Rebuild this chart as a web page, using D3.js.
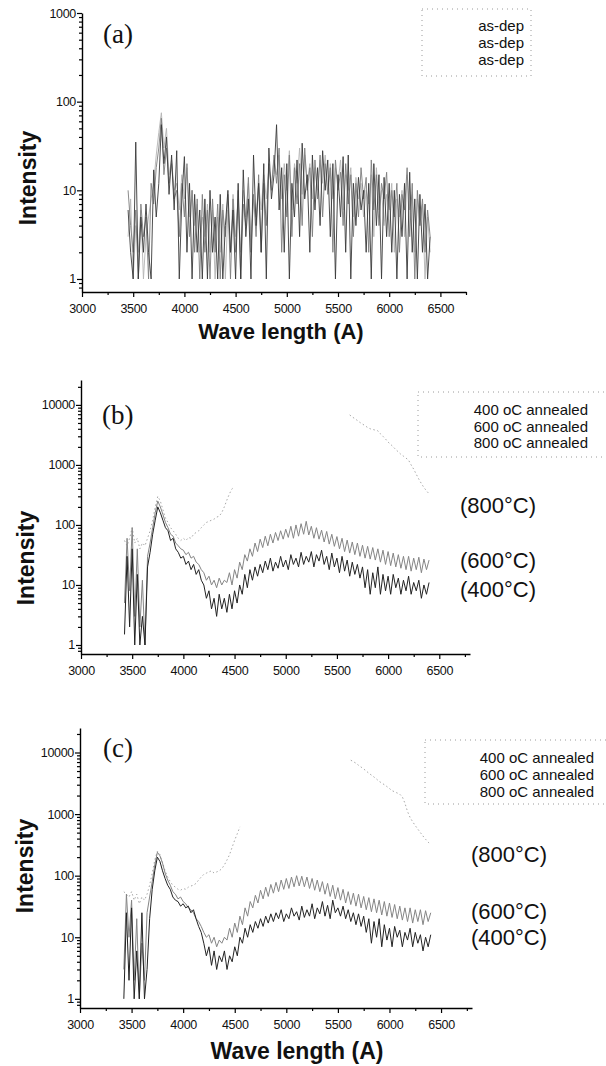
<!DOCTYPE html>
<html><head><meta charset="utf-8">
<script src="https://cdn.jsdelivr.net/npm/d3@7"></script>
<style>body{margin:0;background:#fff} svg{display:block}</style>
</head><body>
<svg id="chart" width="606" height="1066"></svg>
<script>
// ---------------- DATA ----------------
const wavelengths = [
3425,3450,3475,3500,3525,3550,3575,3600,3625,3650,
3675,3700,3725,3750,3775,3800,3825,3850,3875,3900,
3925,3950,3975,4000,4025,4050,4075,4100,4125,4150,
4175,4200,4225,4250,4275,4300,4325,4350,4375,4400,
4425,4450,4475,4500,4525,4550,4575,4600,4625,4650,
4675,4700,4725,4750,4775,4800,4825,4850,4875,4900,
4925,4950,4975,5000,5025,5050,5075,5100,5125,5150,
5175,5200,5225,5250,5275,5300,5325,5350,5375,5400,
5425,5450,5475,5500,5525,5550,5575,5600,5625,5650,
5675,5700,5725,5750,5775,5800,5825,5850,5875,5900,
5925,5950,5975,6000,6025,6050,6075,6100,6125,6150,
6175,6200,6225,6250,6275,6300,6325,6350,6375,6400];

const xTickValues = [3000,3500,4000,4500,5000,5500,6000,6500];
const yTicksA = [1,10,100,1000];
const yTicksBC = [1,10,100,1000,10000];
const panelLabels = ["(a)","(b)","(c)"];
const legendA = ["as-dep","as-dep","as-dep"];
const legendBC = ["400 oC annealed","600 oC annealed","800 oC annealed"];
const tempLabels = ["(800\u00B0C)","(600\u00B0C)","(400\u00B0C)"];
const yTitle = "Intensity";
const xTitle = "Wave length (A)";

// panel (a): as-deposited (three scans)
const asDep1 = [
null,6,2,1,35,1,5,2,7,2,
1,17,5,12,55,20,40,9,25,6,
28,1,8,24,2,12,1,9,2,6,
1,8,1,10,2,5,1,9,1,4,
10,2,6,1,12,1,17,3,8,1,
25,4,12,2,20,1,30,8,15,55,
6,18,2,20,1,12,5,22,3,34,
8,15,2,25,6,18,4,28,10,22,
3,20,1,15,5,24,2,25,1,12,
4,14,6,10,2,12,1,20,4,15,
1,14,3,12,2,10,1,9,3,12,
1,16,2,8,1,9,2,7,1,3];
const asDep2 = [
null,10,4,2,6,1,7,3,5,1,
12,7,18,30,65,15,30,12,20,8,
10,3,12,5,20,3,10,2,8,1,
9,2,6,1,8,2,7,1,6,3,
9,1,8,2,10,1,7,4,14,2,
9,3,15,2,12,4,20,10,25,12,
30,2,15,5,25,3,18,7,20,4,
30,10,18,3,22,8,25,5,20,9,
18,2,22,10,16,4,20,7,15,3,
12,5,18,8,14,2,22,6,15,4,
12,8,16,3,10,5,12,2,9,6,
18,3,12,1,10,4,8,2,6,3];
const asDep3 = [
null,3,8,1,4,2,6,1,3,5,
8,12,25,45,75,30,50,15,22,10,
12,6,15,8,18,5,10,4,7,2,
5,3,7,2,6,1,5,2,7,1,
6,2,9,3,8,2,10,5,12,3,
8,5,12,6,15,8,18,12,22,15,
25,8,20,10,28,6,20,12,30,9,
25,12,20,8,18,10,22,12,25,10,
20,8,18,12,22,6,15,10,18,5,
14,8,12,5,10,7,15,3,18,6,
10,4,9,6,12,2,8,5,10,3,
15,6,9,2,8,4,7,1,5,2];

// panel (b)
const b400 = [
1.5,30,2,40,1,15,1,3,1,20,
35,70,120,200,160,120,90,80,55,60,
40,35,28,30,22,25,18,22,15,18,
12,10,6,8,4,6,3,7,4,6,
3.5,7,4,8,5,10,7,15,9,18,
12,20,14,22,16,25,18,28,17,24,
19,30,20,26,18,32,22,28,20,35,
22,30,24,36,20,32,25,38,22,30,
18,34,20,28,16,30,17,26,14,24,
15,22,13,20,9,18,7,16,9,20,
7,15,8,14,7,15,9,13,7,12,
8,14,7,11,8,12,6,10,7,11];
const b600 = [
5,60,8,90,3,40,2,12,1,30,
50,90,160,250,200,150,110,90,70,65,
50,45,40,38,32,35,28,30,24,22,
18,16,12,14,10,12,9,13,10,12,
11,16,10,18,13,24,18,32,25,40,
30,50,36,58,42,65,45,70,50,75,
55,80,58,85,62,95,60,100,65,105,
70,115,68,95,60,90,58,82,52,78,
48,70,44,64,40,60,36,56,34,52,
32,50,30,46,28,44,27,42,26,40,
24,38,22,36,21,34,20,32,19,30,
18,30,17,28,18,29,16,27,18,26];
const b800 = [
55,45,60,90,50,60,40,50,45,60,
80,120,200,300,250,180,130,110,90,80,
70,60,55,60,55,62,60,70,75,80,
90,100,110,115,120,125,135,140,160,200,
260,330,400,430,null,null,null,null,null,null,
null,null,null,null,null,null,null,null,null,null,
null,null,null,null,null,null,null,null,null,null,
null,null,null,null,null,null,null,null,null,null,
null,null,null,null,null,null,null,null,6800,6300,
5900,5500,5100,4800,4500,4200,4000,3900,3800,3700,
3300,3000,2700,2400,2200,2000,1800,1650,1500,1400,
1300,1200,1000,850,700,580,490,420,370,330];

// panel (c)
const c400 = [
1,25,2,30,1,6,1,25,1,3,
20,60,120,200,170,120,90,70,60,45,
40,38,32,35,30,32,25,28,20,15,
12,8,5,7,3.5,6,3,5,4,6,
3,5,4,7,5,10,8,14,10,16,
12,18,14,20,15,22,17,24,18,25,
20,28,18,24,20,30,22,26,19,32,
21,28,22,35,20,30,24,38,22,33,
20,40,25,30,22,32,20,28,18,25,
16,24,15,22,12,20,8,18,10,20,
7,16,9,14,7,15,10,13,7,12,
9,14,7,12,8,11,6,10,7,11];
const c600 = [
3,50,10,40,2,20,1,8,2,25,
45,80,150,240,210,160,110,85,70,55,
50,42,45,38,35,30,28,25,20,18,
15,12,10,11,8,10,7,9,8,10,
9,14,10,17,12,22,16,30,22,38,
30,48,36,58,42,65,46,72,52,78,
55,85,60,90,62,95,66,100,68,98,
66,95,62,90,58,85,55,80,50,75,
46,70,42,64,40,60,36,55,34,52,
32,50,30,46,28,44,26,42,25,40,
23,38,22,36,21,34,20,32,19,30,
18,30,17,28,18,28,16,27,18,25];
const c800 = [
55,50,45,55,40,50,35,45,40,50,
70,110,180,250,220,160,120,95,80,70,
65,60,58,62,60,65,68,70,75,85,
95,105,110,115,120,110,115,120,130,150,
180,220,290,380,480,620,null,null,null,null,
null,null,null,null,null,null,null,null,null,null,
null,null,null,null,null,null,null,null,null,null,
null,null,null,null,null,null,null,null,null,null,
null,null,null,null,null,null,null,null,7500,7100,
6700,6200,5800,5400,5000,4600,4300,4000,3700,3400,
3200,3000,2800,2600,2400,2300,2200,2100,1900,1500,
1100,880,750,650,570,500,440,390,350,320];

// ---------------- LAYOUT ----------------
const svg = d3.select("#chart");
const FONT = "'Liberation Sans', Arial, Helvetica, sans-serif";
const SERIF = "'Liberation Serif', 'Times New Roman', serif";

const panels = [
  { id:"a", series:[asDep1, asDep2, asDep3],
    styles:[{c:"#3a3a3a",w:0.9,dash:null},{c:"#7e7e7e",w:0.9,dash:null},{c:"#b4b4b4",w:0.9,dash:null}],
    xDomain:[3000,6750], xRange:[82,466], yDomain:[0.713,1000], yRange:[292,13], yMajors:yTicksA,
    label:{x:103,y:43}, yTitle:{x:28,y:178}, xTitle:{x:281,y:339,size:22}, xTitleShow:true,
    legend:{x0:422,x1:531,y0:9,y1:76, tx:524, ty:[31,48,65], texts:legendA},
    temps:null },
  { id:"b", series:[b400, b600, b800],
    styles:[{c:"#222",w:1,dash:null},{c:"#858585",w:1,dash:null},{c:"#a8a8a8",w:1,dash:"1.5,2.5"}],
    xDomain:[3000,6800], xRange:[81,470], yDomain:[0.708,26000], yRange:[654,380], yMajors:yTicksBC,
    label:{x:102,y:424}, yTitle:{x:26,y:558}, xTitleShow:false,
    legend:{x0:418,x1:610,y0:392,y1:457, tx:588, ty:[415,432,448], texts:legendBC},
    temps:{x:460, ty:[513,568,597]} },
  { id:"c", series:[c400, c600, c800],
    styles:[{c:"#222",w:1,dash:null},{c:"#858585",w:1,dash:null},{c:"#a8a8a8",w:1,dash:"1.5,2.5"}],
    xDomain:[3000,6800], xRange:[80,472], yDomain:[0.71,25000], yRange:[1008,728], yMajors:yTicksBC,
    label:{x:103,y:757}, yTitle:{x:25,y:866}, xTitle:{x:297,y:1059,size:23}, xTitleShow:true,
    legend:{x0:425,x1:610,y0:740,y1:804, tx:594, ty:[763,780,797], texts:legendBC},
    temps:{x:471, ty:[862,919,945]} }
];

function minorTicks(dom){
  const out = [];
  for (let e = -1; e <= 5; e++) {
    for (let k = 1; k <= 9; k++) {
      const r = +(k * Math.pow(10, e)).toPrecision(6);
      if (r >= dom[0] && r <= dom[1]) out.push(r);
    }
  }
  return out;
}

panels.forEach((p, pi) => {
  const x = d3.scaleLinear().domain(p.xDomain).range(p.xRange);
  const y = d3.scaleLog().domain(p.yDomain).range(p.yRange);
  const g = svg.append("g");

  const clipId = "clip-" + p.id;
  svg.append("clipPath").attr("id", clipId).append("rect")
    .attr("x", p.xRange[0]).attr("y", p.yRange[1])
    .attr("width", p.xRange[1]-p.xRange[0]).attr("height", p.yRange[0]-p.yRange[1]);

  const line = d3.line()
    .defined(d => d.v != null)
    .x(d => x(d.w)).y(d => y(d.v));
  const plot = g.append("g").attr("clip-path", `url(#${clipId})`);
  [2,1,0].forEach(si => {
    const arr = p.series[si];
    const data = wavelengths.map((w, i) => ({w, v: arr[i] == null ? null : arr[i]}));
    const st = p.styles[si];
    plot.append("path").datum(data)
      .attr("d", line)
      .attr("fill", "none")
      .attr("stroke", st.c)
      .attr("stroke-width", st.w)
      .attr("stroke-dasharray", st.dash);
  });

  // y axis
  const yt = minorTicks(p.yDomain);
  const yAxis = d3.axisLeft(y).tickValues(yt).tickSize(3).tickSizeOuter(0).tickPadding(3)
    .tickFormat(d => p.yMajors.includes(d) ? String(d) : "");
  const ya = g.append("g").attr("transform", `translate(${p.xRange[0]},0)`).call(yAxis);
  ya.selectAll(".tick").filter(d => p.yMajors.includes(d)).select("line").attr("x2", -5);
  ya.selectAll("text").attr("font-family", FONT).attr("font-size", 12.5).attr("fill", "#111")
    .attr("letter-spacing", -0.3);
  ya.select(".domain").attr("stroke-width", 1.4);
  ya.selectAll("line").attr("stroke-width", 1.2);

  // x axis
  const xt = d3.range(p.xDomain[0], p.xDomain[1] + 1, 250);
  const xAxis = d3.axisBottom(x).tickValues(xt).tickSize(3).tickSizeOuter(0).tickPadding(9)
    .tickFormat(d => xTickValues.includes(d) ? String(d) : "");
  const xa = g.append("g").attr("transform", `translate(0,${p.yRange[0]})`).call(xAxis);
  xa.selectAll(".tick").filter(d => xTickValues.includes(d)).select("line").attr("y2", 5);
  xa.selectAll("text").attr("font-family", FONT).attr("font-size", 12.5).attr("fill", "#111")
    .attr("letter-spacing", -0.3);
  xa.select(".domain").attr("stroke-width", 1.6);
  xa.selectAll("line").attr("stroke-width", 1.2);

  // panel label
  g.append("text").attr("x", p.label.x).attr("y", p.label.y)
    .attr("font-family", SERIF).attr("font-size", 27).attr("fill", "#111")
    .text(panelLabels[pi]);

  // y title
  g.append("text")
    .attr("transform", `translate(${p.yTitle.x},${p.yTitle.y}) rotate(-90)`)
    .attr("text-anchor", "middle").attr("dominant-baseline", "central")
    .attr("font-family", FONT).attr("font-weight", "bold").attr("font-size", 23).attr("fill", "#111")
    .text(yTitle);

  // x title
  if (p.xTitleShow) {
    g.append("text").attr("x", p.xTitle.x).attr("y", p.xTitle.y)
      .attr("text-anchor", "middle")
      .attr("font-family", FONT).attr("font-weight", "bold").attr("font-size", p.xTitle.size).attr("fill", "#111")
      .text(xTitle);
  }

  // legend
  const L = p.legend;
  g.append("rect").attr("x", L.x0).attr("y", L.y0).attr("width", L.x1-L.x0).attr("height", L.y1-L.y0)
    .attr("fill", "none").attr("stroke", "#9a9a9a").attr("stroke-width", 1).attr("stroke-dasharray", "1,4");
  L.texts.forEach((t, i) => {
    g.append("text").attr("x", L.tx).attr("y", L.ty[i]).attr("text-anchor", "end")
      .attr("font-family", FONT).attr("font-size", 15).attr("fill", "#111").text(t);
  });

  // temperature annotations
  if (p.temps) {
    tempLabels.forEach((t, i) => {
      g.append("text").attr("x", p.temps.x).attr("y", p.temps.ty[i])
        .attr("font-family", FONT).attr("font-size", 22).attr("fill", "#111").text(t);
    });
  }
});
</script>
</body></html>
